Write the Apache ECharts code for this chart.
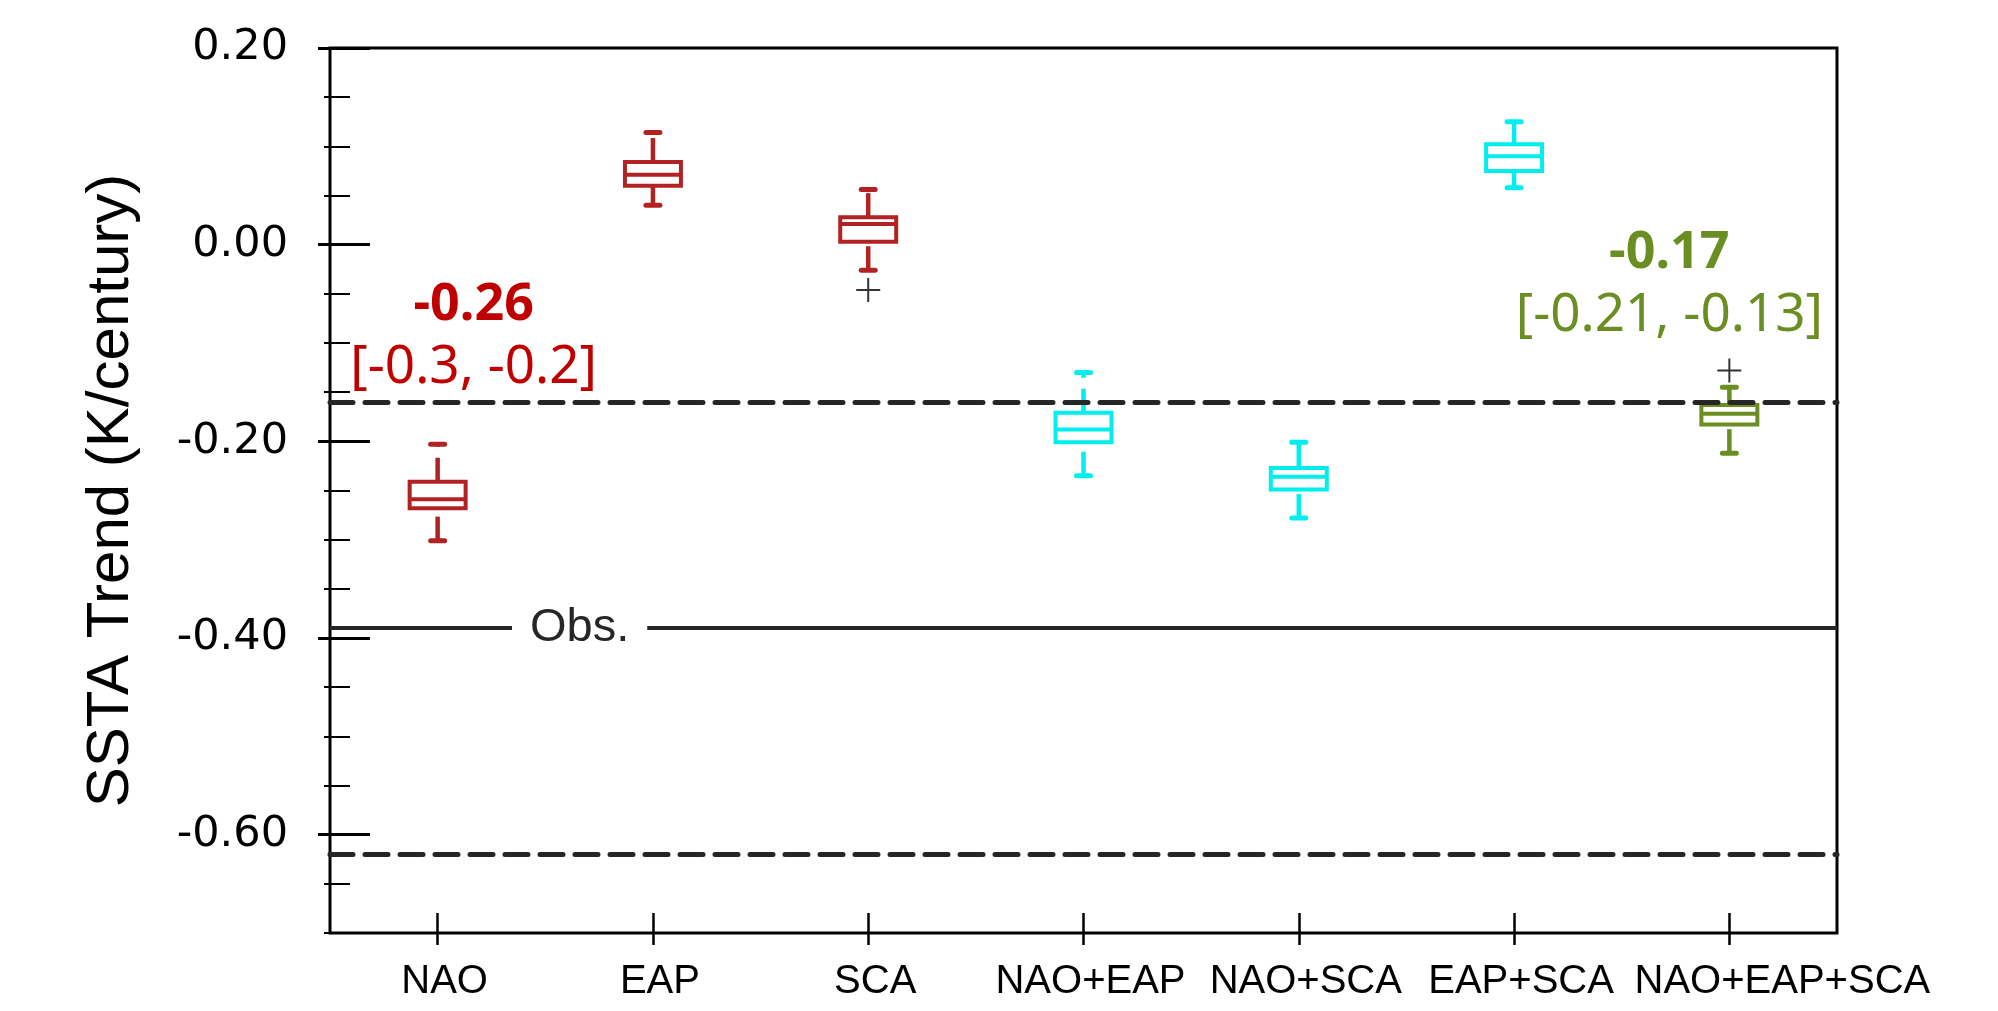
<!DOCTYPE html>
<html>
<head>
<meta charset="utf-8">
<title>SSTA Trend</title>
<script src="https://cdn.jsdelivr.net/npm/echarts@6/dist/echarts.min.js"></script>
<style>
  html, body { margin: 0; padding: 0; background: #fff; }
  #main { width: 1998px; height: 1011px; }
</style>
</head>
<body>
<div id="main"></div>
<script>
// box statistics per experiment (K/century)
var categories = ['NAO', 'EAP', 'SCA', 'NAO+EAP', 'NAO+SCA', 'EAP+SCA', 'NAO+EAP+SCA'];
var whiskerLow  = [-0.301, 0.040, -0.026, -0.235, -0.278, 0.058, -0.212];
var quartile1   = [-0.268, 0.060,  0.003, -0.201, -0.249, 0.075, -0.183];
var medians     = [-0.259, 0.071,  0.021, -0.188, -0.236, 0.090, -0.172];
var quartile3   = [-0.241, 0.084,  0.028, -0.171, -0.227, 0.102, -0.163];
var whiskerHigh = [-0.203, 0.114,  0.056, -0.130, -0.201, 0.125, -0.145];

// outliers
var outlierCats = ['SCA', 'NAO+EAP+SCA'];
var outlierValues = [-0.046, -0.128];

// reference lines
var obsTrend = -0.39;
var spreadBounds = [-0.16, -0.62];

// annotations
var noteCats = ['NAO', 'NAO+EAP+SCA'];
var noteValues = ['-0.26', '-0.17'];
var noteRanges = ['[-0.3, -0.2]', '[-0.21, -0.13]'];

// y ticks
var yMajorTicks = [-0.6, -0.4, -0.2, 0, 0.2];
var yMinorTicks = [-0.7, -0.65, -0.55, -0.5, -0.45, -0.35, -0.3, -0.25, -0.15, -0.1, -0.05, 0.05, 0.1, 0.15];

var red = '#B22222', cyan = '#00EEEE', olive = '#6B8E23';
var boxColors = [red, red, red, cyan, cyan, cyan, olive];
var noteColors = ['#C00000', olive];

var chart = echarts.init(document.getElementById('main'));

var boxData = categories.map(function (c, i) {
    return [i, whiskerLow[i], quartile1[i], medians[i], quartile3[i], whiskerHigh[i]];
});
var outlierData = outlierCats.map(function (c, i) {
    return [c, outlierValues[i]];
});

function renderBox(params, api) {
    var i = api.value(0);
    var x = api.coord([i, 0])[0];
    var half = api.size([1, 0])[0] * 0.13;
    function y(k) { return api.coord([i, api.value(k)])[1]; }
    var yLo = y(1), yQ1 = y(2), yMed = y(3), yQ3 = y(4), yHi = y(5);
    var color = boxColors[i];
    function dash() { return { stroke: color, fill: 'none', lineWidth: 4.5, lineDash: [24, 11] }; }
    function solid() { return { stroke: color, fill: 'none', lineWidth: 4 }; }
    function cap() { return { stroke: color, fill: 'none', lineWidth: 5, lineCap: 'round' }; }
    return {
        type: 'group',
        children: [
            // whiskers drawn upward so the dash pattern starts at the low end
            { type: 'line', shape: { x1: x, y1: yLo, x2: x, y2: yQ1 }, style: dash() },
            { type: 'line', shape: { x1: x, y1: yQ3, x2: x, y2: yHi }, style: dash() },
            { type: 'line', shape: { x1: x - 7, y1: yLo, x2: x + 7, y2: yLo }, style: cap() },
            { type: 'line', shape: { x1: x - 7, y1: yHi, x2: x + 7, y2: yHi }, style: cap() },
            { type: 'rect', shape: { x: x - half, y: yQ3, width: half * 2, height: yQ1 - yQ3 }, style: solid() },
            { type: 'line', shape: { x1: x - half, y1: yMed, x2: x + half, y2: yMed }, style: solid() }
        ]
    };
}

function noteLabel(k, dx) {
    return {
        show: true,
        position: 'inside',
        offset: [dx, 0],
        formatter: '{v|' + noteValues[k] + '}\n{r|' + noteRanges[k] + '}',
        rich: {
            v: { fontFamily: 'Noto Sans', fontWeight: 'bold', fontSize: 52, lineHeight: 63, color: noteColors[k] },
            r: { fontFamily: 'Noto Sans', fontSize: 53, lineHeight: 63, color: noteColors[k] }
        }
    };
}

var axisFont = '"Liberation Sans", Arial, sans-serif';

// the labels sit a little right of their ticks, the last one much more
var xLabels = categories.map(function (c, i) {
    if (i === categories.length - 1) {
        return { value: c, textStyle: { padding: [0, 0, 0, 106] } };
    }
    return c;
});

option = {
    animation: false,
    backgroundColor: '#fff',
    grid: [
        { left: 330, right: 161, top: 48, bottom: 78, show: true, borderColor: '#000', borderWidth: 3, backgroundColor: 'transparent', outerBoundsMode: 'none' },
        { left: 330, right: 161, top: 48, bottom: 78, outerBoundsMode: 'none' }
    ],
    xAxis: [{
        gridIndex: 0,
        type: 'category',
        data: xLabels,
        offset: -20,
        axisLine: { show: false, onZero: false },
        axisTick: { show: true, inside: false, length: 32, alignWithLabel: true, lineStyle: { color: '#000', width: 2.5 } },
        axisLabel: { interval: 0, margin: 49, padding: [0, 0, 0, 14], color: '#000', fontFamily: axisFont, fontSize: 40 },
        splitLine: { show: false }
    }, {
        gridIndex: 1,
        type: 'category',
        data: categories,
        show: false
    }],
    yAxis: [{
        gridIndex: 0,
        type: 'value',
        min: -0.7,
        max: 0.2,
        offset: -40,
        name: 'SSTA Trend (K/century)',
        nameLocation: 'middle',
        nameGap: 229,
        nameTextStyle: { fontFamily: axisFont, fontSize: 60, color: '#000' },
        axisLine: { show: false, onZero: false },
        axisTick: { show: true, length: 52, customValues: yMajorTicks, lineStyle: { color: '#000', width: 3 } },
        axisLabel: {
            customValues: yMajorTicks,
            margin: 82,
            color: '#000',
            fontFamily: '"DejaVu Sans"',
            fontSize: 43,
            formatter: function (v) { return v.toFixed(2); }
        },
        splitLine: { show: false }
    }, {
        gridIndex: 1,
        type: 'value',
        min: -0.7,
        max: 0.2,
        offset: -20,
        axisLine: { show: false, onZero: false },
        axisTick: { show: true, length: 26, customValues: yMinorTicks, lineStyle: { color: '#000', width: 2 } },
        axisLabel: { show: false },
        splitLine: { show: false }
    }],
    series: [{
        type: 'custom',
        name: 'trend',
        xAxisIndex: 0,
        yAxisIndex: 0,
        data: boxData,
        encode: { x: 0, y: [1, 2, 3, 4, 5] },
        renderItem: renderBox,
        z: 2
    }, {
        type: 'scatter',
        name: 'outliers',
        xAxisIndex: 0,
        yAxisIndex: 0,
        data: outlierData,
        symbol: 'path://M0,11h24v2h-24z M11,0h2v24h-2z',
        symbolSize: 24,
        itemStyle: { color: '#000' },
        z: 4,
        markLine: {
            silent: true,
            symbol: ['none', 'none'],
            data: [{
                yAxis: obsTrend,
                lineStyle: { type: 'solid', width: 4, color: '#262626' },
                label: {
                    show: true,
                    position: 'insideStart',
                    distance: [182, 0],
                    formatter: 'Obs.',
                    fontFamily: axisFont,
                    fontSize: 47,
                    color: '#262626',
                    backgroundColor: '#fff',
                    padding: [4, 18]
                }
            }, {
                yAxis: spreadBounds[0],
                lineStyle: { type: [23, 12], cap: 'round', width: 5, color: '#262626' },
                label: { show: false }
            }, {
                yAxis: spreadBounds[1],
                lineStyle: { type: [23, 12], cap: 'round', width: 5, color: '#262626' },
                label: { show: false }
            }]
        },
        markPoint: {
            silent: true,
            symbol: 'circle',
            symbolSize: 1,
            itemStyle: { color: 'transparent' },
            data: [
                { coord: [noteCats[0], -0.0935], label: noteLabel(0, 36) },
                { coord: [noteCats[1], -0.0405], label: noteLabel(1, -60) }
            ]
        }
    }]
};

chart.setOption(option);
</script>
</body>
</html>
